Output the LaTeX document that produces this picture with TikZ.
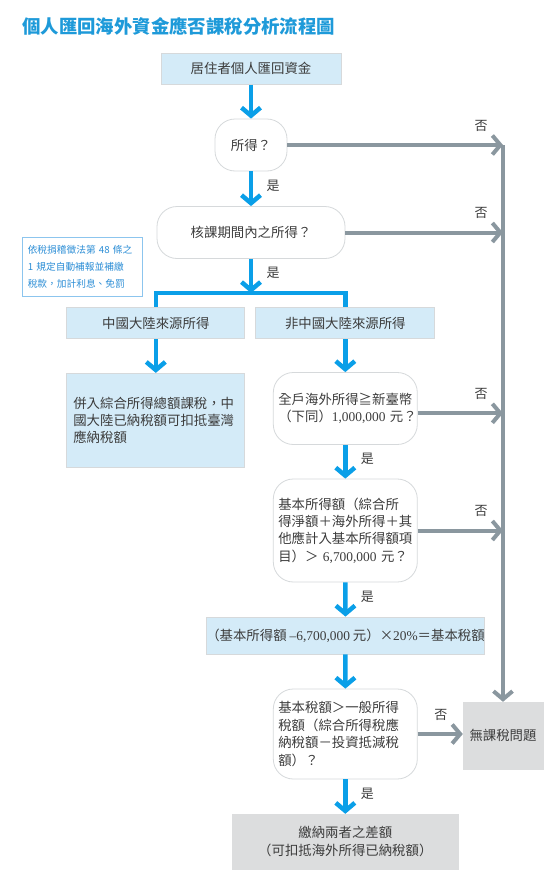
\documentclass[tikz,border=0pt]{standalone}
\usepackage{fontspec}
\setmainfont{Noto Sans CJK TC}
\newfontfamily\numfont{Liberation Serif}
\usetikzlibrary{arrows.meta}
\definecolor{flowblue}{HTML}{0A9FE8}
\definecolor{flowgray}{HTML}{8A979F}
\definecolor{titleblue}{HTML}{1E9AD9}
\definecolor{notetext}{HTML}{2C8ED6}
\definecolor{noteline}{HTML}{8CC5EE}
\definecolor{paleblue}{HTML}{D4EBF8}
\definecolor{palegray}{HTML}{DCDDDE}
\definecolor{edgegray}{HTML}{D6D9DB}
\definecolor{textgray}{HTML}{3C3C3C}
\newcommand{\flowfont}{\fontsize{13.4}{17.4}\selectfont}
\newcommand{\num}[1]{{\numfont #1}}
\tikzset{
  headline/.style={anchor=west, inner sep=0pt, text=titleblue, font=\fontsize{18.4}{18.4}\selectfont\bfseries},
  taxbox/.style={rectangle, fill=paleblue, draw=edgegray, line width=0.8pt, inner sep=0pt, text=textgray, font=\flowfont},
  resbox/.style={rectangle, fill=palegray, draw=palegray, inner sep=0pt, text=textgray, font=\flowfont, align=center},
  query/.style={rectangle, rounded corners=20pt, fill=white, draw=edgegray, line width=0.8pt, inner sep=0pt, text=textgray, font=\flowfont},
  notebox/.style={rectangle, draw=noteline, line width=1pt, fill=white, inner sep=0pt, text=notetext, font=\fontsize{9.7}{17}\selectfont, align=left},
  yesedge/.style={draw=flowblue, line width=4.5pt, -{Straight Barb[length=8pt, width=19pt]}},
  noedge/.style={draw=flowgray, line width=4pt, -{Straight Barb[length=8pt, width=19pt]}},
  forkline/.style={draw=flowblue, line width=4.5pt},
  lab/.style={text=textgray, font=\fontsize{13}{13}\selectfont, inner sep=0pt},
  yeslab/.style={lab, xshift=22pt, yshift=3pt},
  nolab/.style={lab, xshift=-22pt, yshift=19.5pt}
}
\begin{document}
\begin{tikzpicture}[x=1pt, y=-1pt]
  \fill[white] (0,0) rectangle (552,878);
  \useasboundingbox (0,0) rectangle (552,878);

  \node[headline] (title) at (22,26) {個人匯回海外資金應否課稅分析流程圖};
  \node[taxbox, minimum width=180pt, minimum height=31pt] (start) at (251,68.8) {居住者個人匯回資金};
  \node[query, minimum width=72pt, minimum height=52pt] (q1) at (251,145) {所得？};
  \node[query, minimum width=188pt, minimum height=52pt] (q2) at (251,232.5) {核課期間內之所得？};
  \node[notebox, minimum width=120pt, minimum height=59.5pt, text width=109pt] (note) at (82.3,267) {依稅捐稽徵法第 48 條之\\1 規定自動補報並補繳\\稅款，加計利息、免罰};
  \node[taxbox, minimum width=178pt, minimum height=31.4pt] (cn) at (155.8,323) {中國大陸來源所得};
  \node[taxbox, minimum width=179pt, minimum height=31.4pt] (noncn) at (345.3,323) {非中國大陸來源所得};
  \node[taxbox, minimum width=178pt, minimum height=94pt, text width=165pt, align=left] (cnres) at (155.8,420.3) {併入綜合所得總額課稅，中\\國大陸已納稅額可扣抵臺灣\\應納稅額};
  \node[query, minimum width=144pt, minimum height=72pt, text width=134pt, align=left] (q3) at (345.3,408.5) {全戶海外所得≧新臺幣\\（下同）\num{1,000,000}~元？};
  \node[query, minimum width=144pt, minimum height=103pt, text width=134pt, align=left] (q4) at (345.3,530.5) {基本所得額（綜合所\\得淨額＋海外所得＋其\\他應計入基本所得額項\\目）＞~\num{6,700,000}~元？};
  \node[taxbox, minimum width=277pt, minimum height=37pt] (amt) at (345.5,635.5) {（基本所得額 \num{–6,700,000} 元）×\num{20\%}＝基本稅額};
  \node[query, minimum width=144pt, minimum height=90pt, text width=134pt, align=left] (q5) at (345.3,734) {基本稅額＞一般所得\\稅額（綜合所得稅應\\納稅額－投資抵減稅\\額）？};
  \node[resbox, minimum width=80pt, minimum height=67pt] (notax) at (503,735.5) {無課稅問題};
  \node[resbox, minimum width=226pt, minimum height=55pt] (pay) at (345.3,841.5) {繳納兩者之差額\\（可扣抵海外所得已納稅額）};

  \coordinate (trunk) at (503,145.3);
  \coordinate (fork) at (251,293);

  \draw[yesedge] (start) -- (q1);
  \draw[yesedge] (q1) -- node[yeslab] {是} (q2);
  \draw[yesedge] (q2) -- node[yeslab] {是} (fork);
  \draw[forkline] (cn.north) |- (fork) -| (noncn.north);
  \draw[yesedge] (cn) -- (cnres);
  \draw[yesedge] (noncn) -- (q3);
  \draw[yesedge] (q3) -- node[yeslab] {是} (q4);
  \draw[yesedge] (q4) -- node[yeslab] {是} (amt);
  \draw[yesedge] (amt) -- (q5);
  \draw[yesedge] (q5) -- node[yeslab] {是} (pay);

  \draw[noedge] (trunk) -- (notax);
  \draw[noedge] (q1.east) -- (q1.east -| trunk) node[nolab] {否};
  \draw[noedge] (q2.east) -- (q2.east -| trunk) node[nolab] {否};
  \draw[noedge] ([yshift=-4.8pt]q3.east) -- ([yshift=-4.8pt]q3.east -| trunk) node[nolab] {否};
  \draw[noedge] (q4.east) -- (q4.east -| trunk) node[nolab] {否};
  \draw[noedge] (q5.east) -- (q5.east -| notax.west) node[nolab] {否};
\end{tikzpicture}
\end{document}
